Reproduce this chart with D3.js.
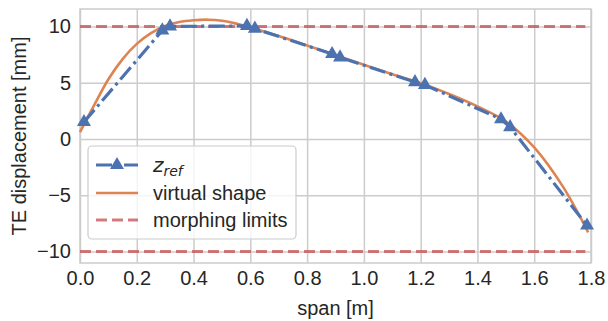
<!DOCTYPE html>
<html><head><meta charset="utf-8">
<script src="https://cdn.jsdelivr.net/npm/d3@7"></script>
<style>body{margin:0;background:#fff}</style>
</head><body>
<svg id="c" width="608" height="321"></svg>
<script>
// z_ref points
const zrefX = [0.014, 0.29, 0.317, 0.588, 0.616, 0.888, 0.916, 1.18, 1.215, 1.483, 1.515, 1.786];
const zrefY = [1.5, 9.65, 10.0, 10.05, 9.8, 7.55, 7.25, 5.05, 4.8, 1.75, 1.05, -7.7];
// virtual shape
const vsX = [0.0, 0.05, 0.1, 0.15, 0.2, 0.25, 0.3, 0.35, 0.4, 0.45, 0.5, 0.55, 0.6, 0.7, 0.8, 0.9, 1.0, 1.1, 1.2, 1.3, 1.4, 1.5, 1.6, 1.7, 1.79];
const vsY = [0.6, 3.0, 5.3, 7.1, 8.45, 9.4, 10.05, 10.4, 10.55, 10.6, 10.5, 10.25, 9.9, 9.15, 8.3, 7.45, 6.6, 5.75, 4.95, 4.0, 2.9, 1.55, -0.75, -4.2, -8.3];
// morphing limits
const limX = [0.0, 1.78];
const limUpper = [10, 10];
const limLower = [-10, -10];
// ticks
const xTicks = [0.0, 0.2, 0.4, 0.6, 0.8, 1.0, 1.2, 1.4, 1.6, 1.8];
const yTicks = [-10, -5, 0, 5, 10];
const legendLabels = ["virtual shape", "morphing limits"];

const svg = d3.select("#c");
const L = 80, R = 591, T = 9, B = 263;
const x = d3.scaleLinear().domain([0, 1.8]).range([L, R]);
const y = d3.scaleLinear().domain([-11.03, 11.55]).range([B, T]);
const font = "'Liberation Sans', Arial, sans-serif";
const fs = "20px";
const txt = "#262626", grid = "#cccccc";
const blue = "#4C72B0", orange = "#DD8452", red = "#C44E52";
const blueDash = "16,4.5,3,4.5";

// grid
const gx = svg.append("g").attr("transform", `translate(0,${B})`)
  .call(d3.axisBottom(x).tickValues(xTicks).tickSize(-(B - T)).tickFormat(d3.format(".1f")).tickPadding(8));
const gy = svg.append("g").attr("transform", `translate(${L},0)`)
  .call(d3.axisLeft(y).tickValues(yTicks).tickSize(-(R - L)).tickFormat(d => d < 0 ? "\u2212" + Math.abs(d) : d).tickPadding(9));
[gx, gy].forEach(g => {
  g.select(".domain").remove();
  g.selectAll("line").attr("stroke", grid).attr("stroke-width", 1.5);
  g.selectAll("text").attr("fill", txt).style("font-family", font).style("font-size", fs);
});
svg.append("rect").attr("x", L).attr("y", T).attr("width", R - L).attr("height", B - T)
  .attr("fill", "none").attr("stroke", grid).attr("stroke-width", 1.5);

const plot = svg.append("g");
const line = d3.line().x(d => x(d[0])).y(d => y(d[1]));

// virtual shape
plot.append("path").datum(vsX.map((v, i) => [v, vsY[i]]))
  .attr("d", line.curve(d3.curveCatmullRom))
  .attr("fill", "none").attr("stroke", orange).attr("stroke-width", 2.6);

// limits
[limUpper, limLower].forEach(arr => {
  plot.append("path").datum(limX.map((v, i) => [v, arr[i]]))
    .attr("d", d3.line().x(d => x(d[0])).y(d => y(d[1])))
    .attr("fill", "none").attr("stroke", red).attr("stroke-opacity", 0.75)
    .attr("stroke-width", 3).attr("stroke-dasharray", "11,5");
});

// z_ref
plot.append("path").datum(zrefX.map((v, i) => [v, zrefY[i]]))
  .attr("d", d3.line().x(d => x(d[0])).y(d => y(d[1])))
  .attr("fill", "none").attr("stroke", blue).attr("stroke-width", 3.2)
  .attr("stroke-dasharray", blueDash);
const tri = d3.symbol().type(d3.symbolTriangle).size(85);
plot.selectAll(".m").data(zrefX.map((v, i) => [v, zrefY[i]])).enter().append("path")
  .attr("d", tri).attr("transform", d => `translate(${x(d[0])},${y(d[1])})`).attr("fill", blue);

// axis labels
svg.append("text").attr("x", (L + R) / 2).attr("y", 315).attr("text-anchor", "middle")
  .attr("fill", txt).style("font-family", font).style("font-size", fs).text("span [m]");
svg.append("text").attr("transform", `translate(26,${(T + B) / 2}) rotate(-90)`).attr("text-anchor", "middle")
  .attr("fill", txt).style("font-family", font).style("font-size", fs).text("TE displacement [mm]");

// legend
const lg = svg.append("g");
lg.append("rect").attr("x", 88).attr("y", 146).attr("width", 208).attr("height", 93).attr("rx", 4)
  .attr("fill", "#fff").attr("fill-opacity", 0.8).attr("stroke", grid).attr("stroke-width", 1.2);
const rows = [165, 193, 220];
lg.append("line").attr("x1", 96).attr("x2", 138).attr("y1", rows[0]).attr("y2", rows[0])
  .attr("stroke", blue).attr("stroke-width", 3.2).attr("stroke-dasharray", blueDash);
lg.append("path").attr("d", tri).attr("transform", `translate(117,${rows[0]})`).attr("fill", blue);
lg.append("line").attr("x1", 96).attr("x2", 138).attr("y1", rows[1]).attr("y2", rows[1])
  .attr("stroke", orange).attr("stroke-width", 2.6);
lg.append("line").attr("x1", 96).attr("x2", 138).attr("y1", rows[2]).attr("y2", rows[2])
  .attr("stroke", red).attr("stroke-opacity", 0.75).attr("stroke-width", 3).attr("stroke-dasharray", "11,5");
const z = lg.append("text").attr("x", 153).attr("y", rows[0] + 7).attr("fill", txt)
  .style("font-family", "'DejaVu Sans', sans-serif").style("font-size", fs).style("font-style", "italic");
z.append("tspan").text("z");
z.append("tspan").attr("dy", 4).style("font-size", "14px").text("ref");
legendLabels.forEach((t, i) => {
  lg.append("text").attr("x", 153).attr("y", rows[i + 1] + 7).attr("fill", txt)
    .style("font-family", font).style("font-size", fs).text(t);
});
</script>
</body></html>
